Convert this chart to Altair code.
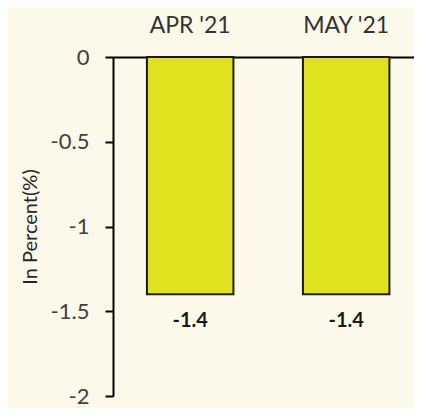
import altair as alt
import pandas as pd

months = ["APR '21", "MAY '21"]
values = [-1.4, -1.4]
labels = ["-1.4", "-1.4"]
y_ticks = [0, -0.5, -1, -1.5, -2]

df = pd.DataFrame({"month": months, "value": values, "label": labels})

FONT = "Lato"

x = alt.X("month:N", sort=months, title=None,
          scale=alt.Scale(paddingInner=0.4455, paddingOuter=0.1875, align=0.58),
          axis=alt.Axis(orient="top", ticks=False, labelAngle=0, labelFont=FONT,
                        labelFontSize=23, labelColor="#333333", labelPadding=25,
                        labelBaseline="alphabetic",
                        domainColor="#000000", domainWidth=2))
y = alt.Y("value:Q", title="In Percent(%)",
          scale=alt.Scale(domain=[-2, 0], nice=False),
          axis=alt.Axis(values=y_ticks, grid=False, labelFont=FONT,
                        labelExpr="replace(format(datum.value, '~g'), '\u2212', '-')",
                        labelFontSize=22, labelColor="#404040", labelPadding=16,
                        tickSize=8, tickWidth=2, tickColor="#000000",
                        domainColor="#000000", domainWidth=2,
                        titleFont=FONT, titleFontSize=20, titleFontWeight="normal",
                        titleColor="#262626", titlePadding=10))

bars = alt.Chart(df).mark_bar(color="#DFE21F", stroke="#1a1a1a", strokeWidth=2).encode(x=x, y=y)
text = alt.Chart(df).mark_text(font=FONT, fontSize=20, fontWeight="bold", color="#1a1a1a",
                               baseline="middle", dy=27).encode(x=x, y=y, text="label:N")

chart = (bars + text).properties(
    width=301, height=339, background="#FDF9EA",
    padding={"left": 105, "top": 49, "right": 0, "bottom": 12},
    autosize=alt.AutoSizeParams(type="none"),
).configure_view(stroke=None)

chart.save("out.html", embed_options={"renderer": "svg", "actions": False})
